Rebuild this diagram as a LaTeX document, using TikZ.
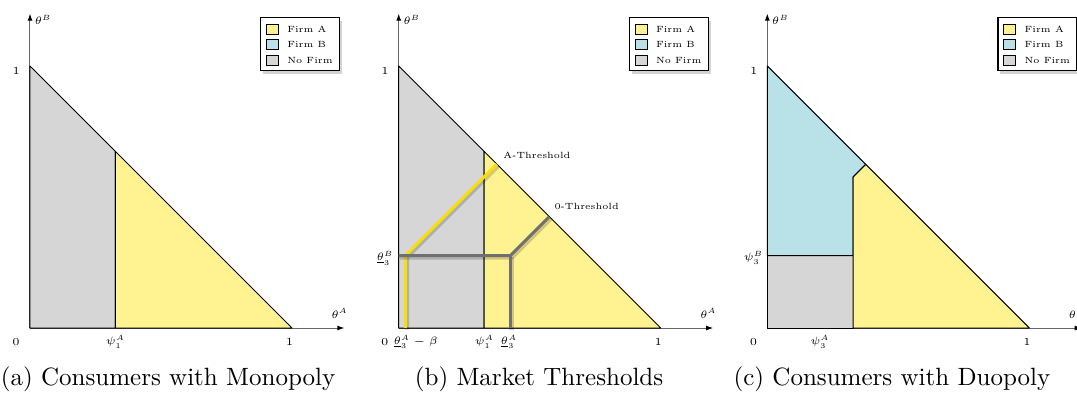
\documentclass[tikz,border=0pt]{standalone}
\usepackage{fix-cm}
\usepackage{amsmath}
\usetikzlibrary{arrows.meta,positioning,shadows}
\definecolor{firmA}{RGB}{255,243,145}
\definecolor{firmB}{RGB}{184,226,232}
\definecolor{nofirm}{RGB}{214,214,214}
\definecolor{athr}{RGB}{248,222,10}
\definecolor{zthr}{RGB}{112,112,112}
\newcommand{\tinyfont}{\fontsize{3.6}{4.3}\selectfont}
\newcommand{\tickfont}{\fontsize{4.3}{5.2}\selectfont}

\begin{document}
\begin{tikzpicture}[x=104.8pt, y=104.8pt,
  >={Latex[length=2.8pt,width=2pt,color=black]},
  axis/.style={draw=black!60, line width=0.4pt, ->},
  region/.style={draw=black, line width=0.4pt, line join=round},
  lbl/.style={font=\tickfont, inner sep=0.5pt},
  note/.style={font=\tinyfont, inner sep=0.5pt},
  legbox/.style={draw=black, line width=0.5pt, fill=white, inner sep=0pt,
    minimum width=31.5pt, minimum height=21.2pt,
    drop shadow={shadow xshift=1pt, shadow yshift=-1.2pt, opacity=0.35}},
  swatch/.style={draw=black, line width=0.4pt, inner sep=0pt,
    minimum width=4.8pt, minimum height=4pt},
  thr/.style={line width=1.2pt, line join=miter,
    preaction={draw=black, opacity=0.18, line width=2pt,
      transform canvas={shift={(0.5pt,-0.6pt)}}}},
  subcap/.style={font=\normalsize, anchor=base, inner sep=0pt}]
\useasboundingbox (-0.1145,-0.2443) rectangle (3.9962,1.2519);

% axes, ticks and legend of the three panels
\foreach \p/\sx in {a/0, b/1.4073, c/2.8142}{
  \begin{scope}[shift={(\sx,0)}]
    \coordinate (O\p) at (0,0);
    \coordinate (X\p) at (1.2,0);
    \coordinate (Y\p) at (0,1.2);
    \draw[axis] (O\p) -- (X\p);
    \draw[axis] (O\p) -- (Y\p);
    \node[lbl] (tA\p) at (1.182,0.056) {$\theta^A$};
    \node[lbl] (tB\p) at (0.05,1.176) {$\theta^B$};
    \node[lbl] (zero\p) at (-0.053,-0.053) {0};
    \node[lbl] (oneX\p) at (0.991,-0.053) {1};
    \node[lbl] (oneY\p) at (-0.052,0.982) {1};
    \node[legbox, anchor=north west] (leg\p) at (0.878,1.187) {};
    \node[swatch, fill=firmA, below right=2.7pt and 2.4pt of leg\p.north west] (sA\p) {};
    \node[swatch, fill=firmB, below=1.8pt of sA\p] (sB\p) {};
    \node[swatch, fill=nofirm, below=1.8pt of sB\p] (sN\p) {};
    \node[note, right=2.6pt of sA\p] (lA\p) {Firm A};
    \node[note, right=2.6pt of sB\p] (lB\p) {Firm B};
    \node[note, right=2.6pt of sN\p] (lN\p) {No Firm};
  \end{scope}
}

% (a) monopoly
\begin{scope}
  \filldraw[region, fill=nofirm] (0,0) -- (0.326,0) -- (0.326,0.674) -- (0,1) -- cycle;
  \filldraw[region, fill=firmA] (0.326,0) -- (1,0) -- (0.326,0.674) -- cycle;
  \node[lbl] (psiA) at (0.326,-0.053) {$\psi_1^A$};
\end{scope}

% (b) thresholds
\begin{scope}[shift={(1.4073,0)}]
  \filldraw[region, fill=nofirm] (0,0) -- (0.326,0) -- (0.326,0.674) -- (0,1) -- cycle;
  \filldraw[region, fill=firmA] (0.326,0) -- (1,0) -- (0.326,0.674) -- cycle;
  \coordinate (lowA) at (0.025,0);
  \coordinate (kinkA) at (0.025,0.276);
  \coordinate (hypA) at (0.3745,0.6255);
  \coordinate (leftZ) at (0,0.276);
  \coordinate (kinkZ) at (0.426,0.276);
  \coordinate (lowZ) at (0.426,0);
  \coordinate (hypZ) at (0.575,0.425);
  \draw[thr, athr] (lowA) -- (kinkA) -- (hypA);
  \draw[thr, zthr] (leftZ) -- (kinkZ) -- (hypZ);
  \draw[thr, zthr] (lowZ) -- (kinkZ);
  \node[note, anchor=west] (thrA) at (0.393,0.659) {A-Threshold};
  \node[note, anchor=west] (thrZ) at (0.588,0.464) {0-Threshold};
  \node[lbl] (thB) at (-0.052,0.266) {$\underline{\theta}_3^B$};
  \node[lbl] (thAb) at (0.065,-0.053) {$\underline{\theta}_3^A-\beta$};
  \node[lbl] (psiB) at (0.327,-0.053) {$\psi_1^A$};
  \node[lbl] (thA) at (0.421,-0.053) {$\underline{\theta}_3^A$};
\end{scope}

% (c) duopoly
\begin{scope}[shift={(2.8142,0)}]
  \filldraw[region, fill=nofirm] (0,0) -- (0.327,0) -- (0.327,0.276) -- (0,0.276) -- cycle;
  \filldraw[region, fill=firmB] (0,0.276) -- (0.327,0.276) -- (0.327,0.576)
    -- (0.3755,0.6245) -- (0,1) -- cycle;
  \filldraw[region, fill=firmA] (0.327,0) -- (1,0) -- (0.3755,0.6245)
    -- (0.327,0.576) -- cycle;
  \node[lbl] (psiBc) at (-0.053,0.267) {$\psi_3^B$};
  \node[lbl] (psiAc) at (0.201,-0.053) {$\psi_3^A$};
\end{scope}

\node[subcap] (capA) at (0.527,-0.221) {(a) Consumers with Monopoly};
\node[subcap] (capB) at (1.943,-0.221) {(b) Market Thresholds};
\node[subcap] (capC) at (3.290,-0.221) {(c) Consumers with Duopoly};
\end{tikzpicture}
\end{document}
